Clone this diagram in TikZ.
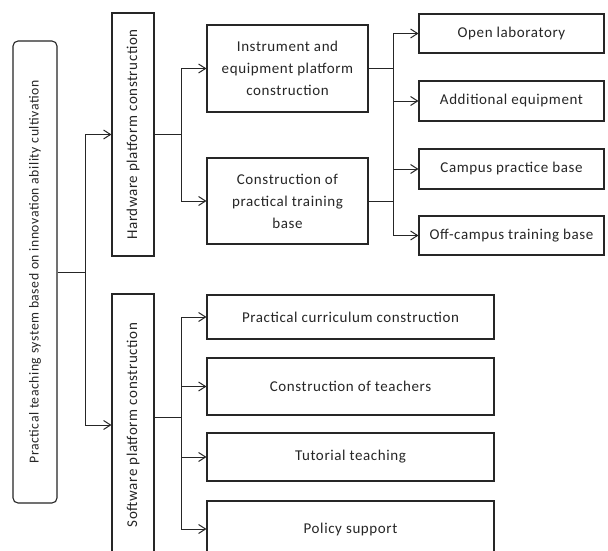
\documentclass[tikz,border=0pt]{standalone}
\usepackage{fontspec}
\setmainfont{Carlito}[LetterSpace=4]
\usetikzlibrary{arrows.meta,calc}
\begin{document}
\begin{tikzpicture}[x=1pt,y=-1pt,
  box/.style={draw=black!85,line width=1.1pt,inner sep=0pt,align=center,text=black!85,font=\fontsize{15}{22}\selectfont},
  conn/.style={line width=1pt,draw=black!85},
  arr/.style={conn,-{Straight Barb[length=7pt,width=9pt,line width=1pt]}}]
\useasboundingbox (0,0) rectangle (608,551);
\clip (0,0) rectangle (608,551);
\fill[white] (0,0) rectangle (608,551);
% level 0
\node[box,rotate=90,rounded corners=5pt,minimum width=462,minimum height=44,font=\fontsize{13.7}{16}\selectfont] (root) at (35,272) {Practical teaching system based on innovation ability cultivation};
% level 1
\node[box,rotate=90,minimum width=243,minimum height=42] (hw) at (133,134.5) {Hardware platform construction};
\node[box,rotate=90,minimum width=262,minimum height=42] (sw) at (133,425) {Software platform construction};
% level 2 hardware
\node[box,minimum width=161,minimum height=87] (ins) at (287.5,68.5) {Instrument and\\equipment platform\\construction};
\node[box,minimum width=161,minimum height=86] (con) at (287.5,201) {Construction of\\practical training\\base};
% level 3
\node[box,minimum width=185,minimum height=39] (open) at (511.5,33.5) {Open laboratory};
\node[box,minimum width=185,minimum height=40] (add) at (511.5,101) {Additional equipment};
\node[box,minimum width=185,minimum height=40] (camp) at (511.5,169) {Campus practice base};
\node[box,minimum width=185,minimum height=39] (off) at (511.5,235.5) {Off-campus training base};
% level 2 software
\node[box,minimum width=287,minimum height=44] (pc) at (350.5,317) {Practical curriculum construction};
\node[box,minimum width=287,minimum height=57] (tea) at (350.5,386.5) {Construction of teachers};
\node[box,minimum width=287,minimum height=48] (tut) at (350.5,457) {Tutorial teaching};
\node[box,minimum width=287,minimum height=56] (pol) at (350.5,529) {Policy support};
% connectors
\draw[conn] (root.south) -- ++(28,0) coordinate (j1);
\draw[arr] (j1) |- (hw.north);
\draw[arr] (j1) |- (sw.north);
\draw[conn] (hw.south) -- ++(27,0) coordinate (j2);
\draw[arr] (j2) |- (ins.west);
\draw[arr] (j2) |- (con.west);
\draw[conn] (ins.east) -- ++(25,0) coordinate (j3);
\draw[conn] (con.east) -- ++(25,0) coordinate (j4);
\draw[conn] (j3) -- (j4);
\draw[arr] (j3) |- (open.west);
\draw[arr] (j3) |- (add.west);
\draw[arr] (j4) |- (camp.west);
\draw[arr] (j4) |- (off.west);
\draw[conn] ([yshift=8pt]sw.south) -- ++(27,0) coordinate (j5);
\draw[arr] (j5) |- (pc.west);
\draw[arr] (j5) |- (tea.west);
\draw[arr] (j5) |- (tut.west);
\draw[arr] (j5) |- (pol.west);
\end{tikzpicture}
\end{document}
